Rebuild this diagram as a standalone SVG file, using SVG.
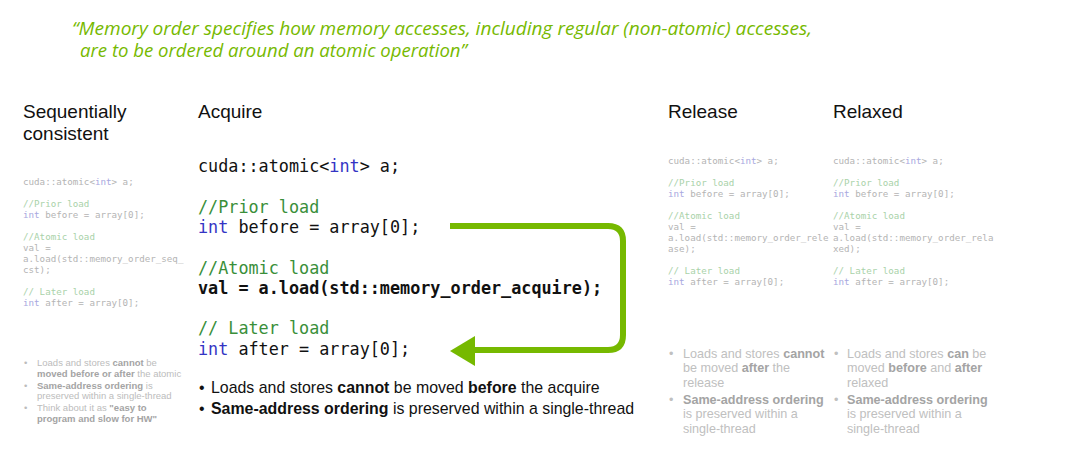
<svg xmlns="http://www.w3.org/2000/svg" width="1080" height="449" viewBox="0 0 1080 449">
<style>
.q{font-family:"Open Sans","Liberation Sans",sans-serif;font-style:italic;font-size:17.5px;fill:#76b900}
.h{font-family:"Liberation Sans","Noto Sans",sans-serif;font-size:19px;fill:#111}
.c{font-family:"DejaVu Sans Mono","Liberation Mono",monospace;font-size:16.8px;fill:#111}
.cb{font-weight:bold}
.cm{fill:#3a8f3a}
.kw{fill:#3434c4}
.s{font-family:"DejaVu Sans Mono","Liberation Mono",monospace;font-size:9.2px;fill:#b4b4b4}
.scm{fill:#a9d2a9}
.skw{fill:#a8a8e0}
.b{font-family:"Liberation Sans","Noto Sans",sans-serif;font-size:15.9px;fill:#111}
.bs{font-family:"Liberation Sans","Noto Sans",sans-serif;font-size:9.5px;fill:#bcbcbc}
.bm{font-family:"Liberation Sans","Noto Sans",sans-serif;font-size:12.6px;fill:#c0c0c0}
.bb{font-weight:bold;fill:#a4a4a4}
.k{font-weight:bold}
</style>
<rect width="1080" height="449" fill="#fff"/>
<g id="quote">
<text class="q" x="72" y="35" textLength="740" lengthAdjust="spacingAndGlyphs">“Memory order specifies how memory accesses, including regular (non-atomic) accesses,</text>
<text class="q" x="80" y="57" textLength="387" lengthAdjust="spacingAndGlyphs">are to be ordered around an atomic operation”</text>
</g>
<g id="seq">
<text class="h" x="23" y="118">Sequentially</text>
<text class="h" x="23" y="140">consistent</text>
<text class="s" x="23" y="185">cuda::atomic&lt;<tspan class="skw">int</tspan>&gt; a;</text>
<text class="s scm" x="23" y="207">//Prior load</text>
<text class="s" x="23" y="218"><tspan class="skw">int</tspan> before = array[0];</text>
<text class="s scm" x="23" y="240">//Atomic load</text>
<text class="s" x="23" y="251">val =</text>
<text class="s" x="23" y="262">a.load(std::memory_order_seq_</text>
<text class="s" x="23" y="273">cst);</text>
<text class="s scm" x="23" y="295">// Later load</text>
<text class="s" x="23" y="306"><tspan class="skw">int</tspan> after = array[0];</text>
<text class="bs" x="24" y="366">•</text>
<text class="bs" x="37" y="366">Loads and stores <tspan class="bb">cannot</tspan> be</text>
<text class="bs" x="37" y="377"><tspan class="bb">moved before or after</tspan> the atomic</text>
<text class="bs" x="24" y="389">•</text>
<text class="bs" x="37" y="389"><tspan class="bb">Same-address ordering</tspan> is</text>
<text class="bs" x="37" y="399">preserved within a single-thread</text>
<text class="bs" x="24" y="411">•</text>
<text class="bs" x="37" y="411">Think about it as <tspan class="bb">"easy to</tspan></text>
<text class="bs" x="37" y="422"><tspan class="bb">program and slow for HW"</tspan></text>
</g>
<g id="acquire">
<text class="h" x="198" y="118">Acquire</text>
<text class="c" x="198" y="172">cuda::atomic&lt;<tspan class="kw">int</tspan>&gt; a;</text>
<text class="c cm" x="198" y="213">//Prior load</text>
<text class="c" x="198" y="233"><tspan class="kw">int</tspan> before = array[0];</text>
<text class="c cm" x="198" y="274">//Atomic load</text>
<text class="c cb" x="198" y="294">val = a.load(std::memory_order_acquire);</text>
<text class="c cm" x="198" y="334">// Later load</text>
<text class="c" x="198" y="355"><tspan class="kw">int</tspan> after = array[0];</text>
<text class="b" x="199" y="393">•</text>
<text class="b" x="211" y="393">Loads and stores <tspan class="k">cannot</tspan> be moved <tspan class="k">before</tspan> the acquire</text>
<text class="b" x="199" y="414">•</text>
<text class="b" x="211" y="414"><tspan class="k">Same-address ordering</tspan> is preserved within a single-thread</text>
</g>
<g id="release">
<text class="h" x="668" y="118">Release</text>
<text class="s" x="668" y="164">cuda::atomic&lt;<tspan class="skw">int</tspan>&gt; a;</text>
<text class="s scm" x="668" y="186">//Prior load</text>
<text class="s" x="668" y="197"><tspan class="skw">int</tspan> before = array[0];</text>
<text class="s scm" x="668" y="219">//Atomic load</text>
<text class="s" x="668" y="230">val =</text>
<text class="s" x="668" y="241">a.load(std::memory_order_rele</text>
<text class="s" x="668" y="252">ase);</text>
<text class="s scm" x="668" y="274">// Later load</text>
<text class="s" x="668" y="285"><tspan class="skw">int</tspan> after = array[0];</text>
<text class="bm" x="669" y="358">•</text>
<text class="bm" x="683" y="358">Loads and stores <tspan class="bb">cannot</tspan></text>
<text class="bm" x="683" y="372">be moved <tspan class="bb">after</tspan> the</text>
<text class="bm" x="683" y="387">release</text>
<text class="bm" x="669" y="404">•</text>
<text class="bm" x="683" y="404"><tspan class="bb">Same-address ordering</tspan></text>
<text class="bm" x="683" y="418">is preserved within a</text>
<text class="bm" x="683" y="433">single-thread</text>
</g>
<g id="relaxed">
<text class="h" x="833" y="118">Relaxed</text>
<text class="s" x="833" y="164">cuda::atomic&lt;<tspan class="skw">int</tspan>&gt; a;</text>
<text class="s scm" x="833" y="186">//Prior load</text>
<text class="s" x="833" y="197"><tspan class="skw">int</tspan> before = array[0];</text>
<text class="s scm" x="833" y="219">//Atomic load</text>
<text class="s" x="833" y="230">val =</text>
<text class="s" x="833" y="241">a.load(std::memory_order_rela</text>
<text class="s" x="833" y="252">xed);</text>
<text class="s scm" x="833" y="274">// Later load</text>
<text class="s" x="833" y="285"><tspan class="skw">int</tspan> after = array[0];</text>
<text class="bm" x="834" y="358">•</text>
<text class="bm" x="847" y="358">Loads and stores <tspan class="bb">can</tspan> be</text>
<text class="bm" x="847" y="372">moved <tspan class="bb">before</tspan> and <tspan class="bb">after</tspan></text>
<text class="bm" x="847" y="387">relaxed</text>
<text class="bm" x="834" y="404">•</text>
<text class="bm" x="847" y="404"><tspan class="bb">Same-address ordering</tspan></text>
<text class="bm" x="847" y="418">is preserved within a</text>
<text class="bm" x="847" y="433">single-thread</text>
</g>
<g id="connectors">
<path d="M450 226 H608 Q623 226 623 241 V335 Q623 350 608 350 H470" fill="none" stroke="#76b900" stroke-width="6"/>
<polygon points="450,351 475,336 475,366" fill="#76b900"/>
</g>
</svg>
